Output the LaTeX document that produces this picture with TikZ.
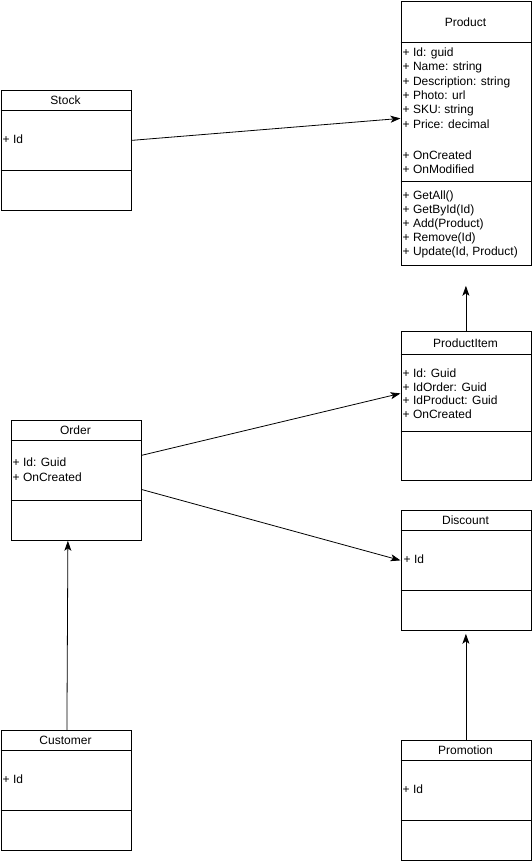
\documentclass[tikz,border=0pt]{standalone}
\usepackage{fontspec}
\setmainfont{Liberation Sans}
\usetikzlibrary{positioning,arrows.meta}

\begin{document}
\begin{tikzpicture}[
            x=1pt, y=-1pt,
            classbox/.style={draw, line width=0.8pt, anchor=north west, minimum width=130pt, inner sep=0pt},
            classname/.style={font=\fontsize{12}{14}\selectfont, inner sep=0pt, text height=10pt, text depth=2pt},
            member/.style={anchor=west, font=\fontsize{12}{14}\selectfont, inner sep=0pt, text height=10pt, text depth=2pt},
            divider/.style={line width=0.8pt},
            assoc/.style={-{Stealth[length=10pt, width=7pt, inset=2.5pt]}, line width=0.8pt},
            auto
        ]
            \useasboundingbox (0,0) rectangle (531,862);
            % Classes
            \node[classbox, minimum height=264pt] (product) at (400.5,1) {};
            \node[classname] (product-name) at (465.5,22) {Product};
            \draw[divider] (400.5,42) -- (530.5,42);
            \draw[divider] (400.5,181) -- (530.5,181);
            \foreach \y/\t [count=\i] in {52.5/+ Id: guid, 66.8/+ Name: string, 81.1/+ Description: string, 95.4/+ Photo: url, 109.7/+ SKU: string, 124/+ Price: decimal, 155.3/+ OnCreated, 169.5/+ OnModified}
                \node[member] (product-attr-\i) at (402.5,\y) {\t};
            \foreach \t [count=\i] in {+ GetAll(), + GetById(Id), + Add(Product), + Remove(Id), {+ Update(Id, Product)}}
                \node[member] (product-op-\i) at (402.5,{195.4+(\i-1)*14}) {\t};

            \node[classbox, minimum height=120pt] (stock) at (0.5,90) {};
            \node[classname] (stock-name) at (65.5,100) {Stock};
            \draw[divider] (0.5,110) -- (130.5,110);
            \draw[divider] (0.5,170) -- (130.5,170);
            \node[member] (stock-attr) at (2.5,139.5) {+ Id};

            \node[classbox, minimum height=149pt] (productitem) at (400.5,331) {};
            \node[classname] (productitem-name) at (465.5,343) {ProductItem};
            \draw[divider] (400.5,354) -- (530.5,354);
            \draw[divider] (400.5,431) -- (530.5,431);
            \foreach \t [count=\i] in {+ Id: Guid, + IdOrder: Guid, + IdProduct: Guid, + OnCreated}
                \node[member] (productitem-attr-\i) at (402.5,{373.5+(\i-1)*13.5}) {\t};

            \node[classbox, minimum height=120pt] (order) at (10.5,420) {};
            \node[classname] (order-name) at (75.5,430) {Order};
            \draw[divider] (10.5,440) -- (140.5,440);
            \draw[divider] (10.5,500) -- (140.5,500);
            \node[member] (order-attr-1) at (12.5,462.5) {+ Id: Guid};
            \node[member] (order-attr-2) at (12.5,477) {+ OnCreated};

            \node[classbox, minimum height=120pt] (discount) at (400.5,510) {};
            \node[classname] (discount-name) at (465.5,520) {Discount};
            \draw[divider] (400.5,530) -- (530.5,530);
            \draw[divider] (400.5,590) -- (530.5,590);
            \node[member] (discount-attr) at (403.5,559.5) {+ Id};

            \node[classbox, minimum height=120pt] (customer) at (0.5,730) {};
            \node[classname] (customer-name) at (65.5,740) {Customer};
            \draw[divider] (0.5,750) -- (130.5,750);
            \draw[divider] (0.5,810) -- (130.5,810);
            \node[member] (customer-attr) at (2.5,779.5) {+ Id};

            \node[classbox, minimum height=120pt] (promotion) at (400.5,740) {};
            \node[classname] (promotion-name) at (465.5,750) {Promotion};
            \draw[divider] (400.5,760) -- (530.5,760);
            \draw[divider] (400.5,820) -- (530.5,820);
            \node[member] (promotion-attr) at (402.5,789.5) {+ Id};

            % Associations
            \draw[assoc] ([yshift=10pt]stock.east) -- ([yshift=15pt]product.west);
            \draw[assoc] (productitem.north) -- ([yshift=-20pt]product.south);
            \draw[assoc] ([yshift=25pt]order.east) -- ([yshift=12.5pt]productitem.west);
            \draw[assoc] ([yshift=-9pt]order.east) -- ([yshift=10pt]discount.west);
            \draw[assoc] ([xshift=1pt]customer.north) -- ([xshift=-8pt]order.south);
            \draw[assoc] (promotion.north) -- ([yshift=-3pt]discount.south);
        \end{tikzpicture}
\end{document}
